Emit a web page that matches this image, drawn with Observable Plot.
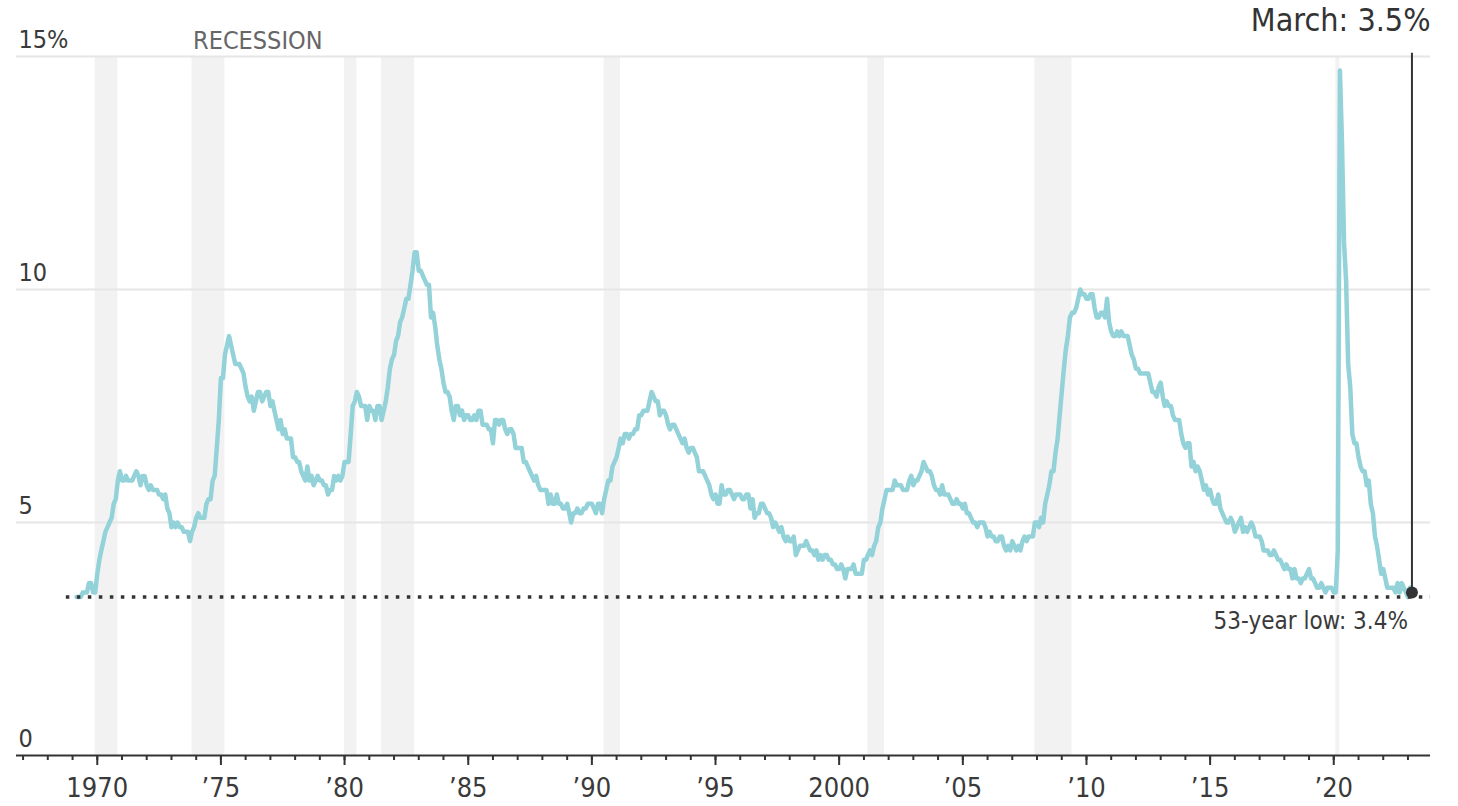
<!DOCTYPE html>
<html><head><meta charset="utf-8">
<script src="https://cdn.jsdelivr.net/npm/d3@7"></script>
<script src="https://cdn.jsdelivr.net/npm/@observablehq/plot@0.6"></script>
<style>
html,body{margin:0;padding:0;background:#fff;overflow:hidden;}
#chart svg{display:block;}
</style></head><body><div id="chart"></div>
<script>
// US unemployment rate, monthly, seasonally adjusted (percent)
const startYear = 1969, startMonth = 3; // series starts March 1969
const rate1969 = [3.4,3.4,3.4,3.5,3.5,3.5,3.7,3.7,3.5,3.5];
const rate1970s = [
  3.9,4.2,4.4,4.6,4.8,4.9,5.0,5.1,5.4,5.5,5.9,6.1,
  5.9,5.9,6.0,5.9,5.9,5.9,6.0,6.1,6.0,5.8,6.0,6.0,
  5.8,5.7,5.8,5.7,5.7,5.7,5.6,5.6,5.5,5.6,5.3,5.2,
  4.9,5.0,4.9,5.0,4.9,4.9,4.8,4.8,4.8,4.6,4.8,4.9,
  5.1,5.2,5.1,5.1,5.1,5.4,5.5,5.5,5.9,6.0,6.6,7.2,
  8.1,8.1,8.6,8.8,9.0,8.8,8.6,8.4,8.4,8.4,8.3,8.2,
  7.9,7.7,7.6,7.7,7.4,7.6,7.8,7.8,7.6,7.7,7.8,7.8,
  7.5,7.6,7.4,7.2,7.0,7.2,6.9,7.0,6.8,6.8,6.8,6.4,
  6.4,6.3,6.3,6.1,6.0,5.9,6.2,5.9,6.0,5.8,5.9,6.0,
  5.9,5.9,5.8,5.8,5.6,5.7,5.7,6.0,5.9,6.0,5.9,6.0
];
const rate1980s = [
  6.3,6.3,6.3,6.9,7.5,7.6,7.8,7.7,7.5,7.5,7.5,7.2,
  7.5,7.4,7.4,7.2,7.5,7.5,7.2,7.4,7.6,7.9,8.3,8.5,
  8.6,8.9,9.0,9.3,9.4,9.6,9.8,9.8,10.1,10.4,10.8,10.8,
  10.4,10.4,10.3,10.2,10.1,10.1,9.4,9.5,9.2,8.8,8.5,8.3,
  8.0,7.8,7.8,7.7,7.4,7.2,7.5,7.5,7.3,7.4,7.2,7.3,
  7.3,7.2,7.2,7.3,7.2,7.4,7.4,7.1,7.1,7.1,7.0,7.0,
  6.7,7.2,7.2,7.1,7.2,7.2,7.0,6.9,7.0,7.0,6.9,6.6,
  6.6,6.6,6.6,6.3,6.3,6.2,6.1,6.0,5.9,6.0,5.8,5.7,
  5.7,5.7,5.7,5.4,5.6,5.4,5.4,5.6,5.4,5.4,5.3,5.3,
  5.4,5.2,5.0,5.2,5.2,5.3,5.2,5.2,5.3,5.3,5.4,5.4
];
const rate1990s = [
  5.4,5.3,5.2,5.4,5.4,5.2,5.5,5.7,5.9,5.9,6.2,6.3,
  6.4,6.6,6.8,6.7,6.9,6.9,6.8,6.9,6.9,7.0,7.0,7.3,
  7.3,7.4,7.4,7.4,7.6,7.8,7.7,7.6,7.6,7.3,7.4,7.4,
  7.3,7.1,7.0,7.1,7.1,7.0,6.9,6.8,6.7,6.8,6.6,6.5,
  6.6,6.6,6.5,6.4,6.1,6.1,6.1,6.0,5.9,5.8,5.6,5.5,
  5.6,5.4,5.4,5.8,5.6,5.6,5.7,5.7,5.6,5.5,5.6,5.6,
  5.6,5.5,5.5,5.6,5.6,5.3,5.5,5.1,5.2,5.2,5.4,5.4,
  5.3,5.2,5.2,5.1,4.9,5.0,4.9,4.8,4.9,4.7,4.6,4.7,
  4.6,4.6,4.7,4.3,4.4,4.5,4.5,4.5,4.6,4.5,4.4,4.4,
  4.3,4.4,4.2,4.3,4.2,4.3,4.3,4.2,4.2,4.1,4.1,4.0
];
const rate2000s = [
  4.0,4.1,4.0,3.8,4.0,4.0,4.0,4.1,3.9,3.9,3.9,3.9,
  4.2,4.2,4.3,4.4,4.3,4.5,4.6,4.9,5.0,5.3,5.5,5.7,
  5.7,5.7,5.7,5.9,5.8,5.8,5.8,5.7,5.7,5.7,5.9,6.0,
  5.8,5.9,5.9,6.0,6.1,6.3,6.2,6.1,6.1,6.0,5.8,5.7,
  5.7,5.6,5.8,5.6,5.6,5.6,5.5,5.4,5.4,5.5,5.4,5.4,
  5.3,5.4,5.2,5.2,5.1,5.0,5.0,4.9,5.0,5.0,5.0,4.9,
  4.7,4.8,4.7,4.7,4.6,4.6,4.7,4.7,4.5,4.4,4.5,4.4,
  4.6,4.5,4.4,4.5,4.4,4.6,4.7,4.6,4.7,4.7,4.7,5.0,
  5.0,4.9,5.1,5.0,5.4,5.6,5.8,6.1,6.1,6.5,6.8,7.3,
  7.8,8.3,8.7,9.0,9.4,9.5,9.5,9.6,9.8,10.0,9.9,9.9
];
const rate2010s = [
  9.8,9.8,9.9,9.9,9.6,9.4,9.4,9.5,9.5,9.4,9.8,9.3,
  9.1,9.0,9.0,9.1,9.0,9.1,9.0,9.0,9.0,8.8,8.6,8.5,
  8.3,8.3,8.2,8.2,8.2,8.2,8.2,8.0,7.8,7.8,7.7,7.9,
  8.0,7.7,7.5,7.6,7.5,7.5,7.3,7.2,7.2,7.2,6.9,6.7,
  6.6,6.7,6.7,6.2,6.3,6.1,6.2,6.1,5.9,5.7,5.8,5.6,
  5.7,5.5,5.4,5.4,5.6,5.3,5.2,5.1,5.0,5.0,5.1,5.0,
  4.8,4.9,5.0,5.1,4.8,4.9,4.8,4.9,5.0,4.9,4.7,4.7,
  4.7,4.6,4.4,4.4,4.4,4.3,4.3,4.4,4.3,4.2,4.2,4.1,
  4.0,4.1,4.0,4.0,3.8,4.0,3.8,3.8,3.7,3.8,3.8,3.9,
  4.0,3.8,3.8,3.7,3.6,3.6,3.7,3.6,3.5,3.6,3.6,3.6
];
const rate2020s = [
  3.5,3.5,4.4,14.7,13.2,11.0,10.2,8.4,7.9,6.9,6.7,6.7,
  6.4,6.2,6.1,6.1,5.8,5.9,5.4,5.2,4.7,4.5,4.2,3.9,
  4.0,3.8,3.6,3.6,3.6,3.6,3.5,3.7,3.5,3.7,3.6,3.5,
  3.4,3.6,3.5
];

// Recessions (NBER), as [start "YYYY-MM", end "YYYY-MM"]
const recessionStart = ["1969-12","1973-11","1980-01","1981-07","1990-07","2001-03","2007-12","2020-02"];
const recessionEnd   = ["1970-11","1975-03","1980-07","1982-11","1991-03","2001-11","2009-06","2020-04"];

const yTickValues = [0, 5, 10, 15];
const yTickLabels = ["0", "5", "10", "15%"];
const majorTickYears = [1970,1975,1980,1985,1990,1995,2000,2005,2010,2015,2020];
const majorTickLabels = ["1970","\u201975","\u201980","\u201985","\u201990","\u201995","2000","\u201905","\u201910","\u201915","\u201920"];
const minorTickYears = d3.range(1967, 2024);

const lowValue = 3.4;
const lowLabel = "53-year low: 3.4%";
const latestLabel = "March: 3.5%";
const recessionLabel = "RECESSION";

// ---- build tables
const ym = s => { const [y, m] = s.split("-").map(Number); return new Date(Date.UTC(y, m - 1, 1)); };
const allRates = [...rate1969, ...rate1970s, ...rate1980s, ...rate1990s, ...rate2000s, ...rate2010s, ...rate2020s];
const series = allRates.map((v, i) => ({date: new Date(Date.UTC(startYear, startMonth - 1 + i, 1)), value: v}));
const latest = series[series.length - 1];
const recessions = recessionStart.map((s, i) => ({start: ym(s), end: ym(recessionEnd[i])}));
const yearDate = y => new Date(Date.UTC(y, 0, 1));
const majorTicks = majorTickYears.map(yearDate);
const minorTicks = minorTickYears.map(yearDate);
const yLabels = yTickValues.map((v, i) => ({value: v, label: yTickLabels[i]}));

const FONT = "'Liberation Sans Narrow', 'DejaVu Sans Condensed', 'Roboto Condensed', sans-serif";
const xDomain = [new Date(Date.UTC(1966, 8, 26)), new Date(Date.UTC(2023, 10, 30))];
const lowStart = new Date(Date.UTC(1968, 9, 1));

const chart = Plot.plot({
  width: 1458,
  height: 806,
  marginLeft: 16,
  marginRight: 28,
  marginTop: 56,
  marginBottom: 51,
  style: {fontFamily: FONT, background: "#fff", overflow: "visible"},
  x: {type: "utc", domain: xDomain},
  y: {domain: [0, 15], axis: null},
  marks: [
    Plot.rectX(recessions, {x1: "start", x2: "end", y1: 0, y2: 15, fill: "#f2f2f2"}),
    Plot.gridY(yTickValues.filter(v => v > 0), {stroke: "#e6e6e6", strokeOpacity: 1, strokeWidth: 2}),
    Plot.text(yLabels, {y: "value", text: "label", frameAnchor: "left", textAnchor: "start", dx: 2, dy: -17, fontSize: 25, fill: "#3a3a3a"}),
    Plot.text([recessionLabel], {x: recessions[1].start, y: 15, text: d => d, textAnchor: "start", dx: 1, dy: -16, fontSize: 25, fill: "#666"}),
    Plot.lineY(series, {x: "date", y: "value", stroke: "#93d2d8", strokeWidth: 4.5, strokeLinejoin: "round"}),
    Plot.ruleY([lowValue], {x1: lowStart, x2: xDomain[1], stroke: "#333", strokeWidth: 3.5, strokeDasharray: "3.5 7.5"}),
    Plot.ruleX([latest], {x: "date", y1: "value", y2: 15.07, stroke: "#333", strokeWidth: 2}),
    Plot.dot([latest], {x: "date", y: "value", r: 6, fill: "#333"}),
    Plot.text([lowLabel], {x: latest.date, y: lowValue, text: d => d, textAnchor: "end", dx: -4, dy: 24, fontSize: 24, fill: "#3a3a3a"}),
    Plot.text([latestLabel], {y: 15, frameAnchor: "right", text: d => d, textAnchor: "end", dy: -36, fontSize: 32, fill: "#333"}),
    Plot.ruleY([0], {stroke: "#333", strokeWidth: 2}),
    Plot.axisX(minorTicks, {tickSize: 5, tickFormat: () => "", stroke: "#333", strokeWidth: 2, label: null}),
    Plot.axisX(majorTicks, {tickSize: 10, tickPadding: 12, tickFormat: d => majorTickLabels[majorTickYears.indexOf(d.getUTCFullYear())], stroke: "#333", strokeWidth: 2, fontSize: 27, fill: "#3a3a3a", label: null})
  ]
});
document.getElementById("chart").appendChild(chart);
</script>
</body></html>
